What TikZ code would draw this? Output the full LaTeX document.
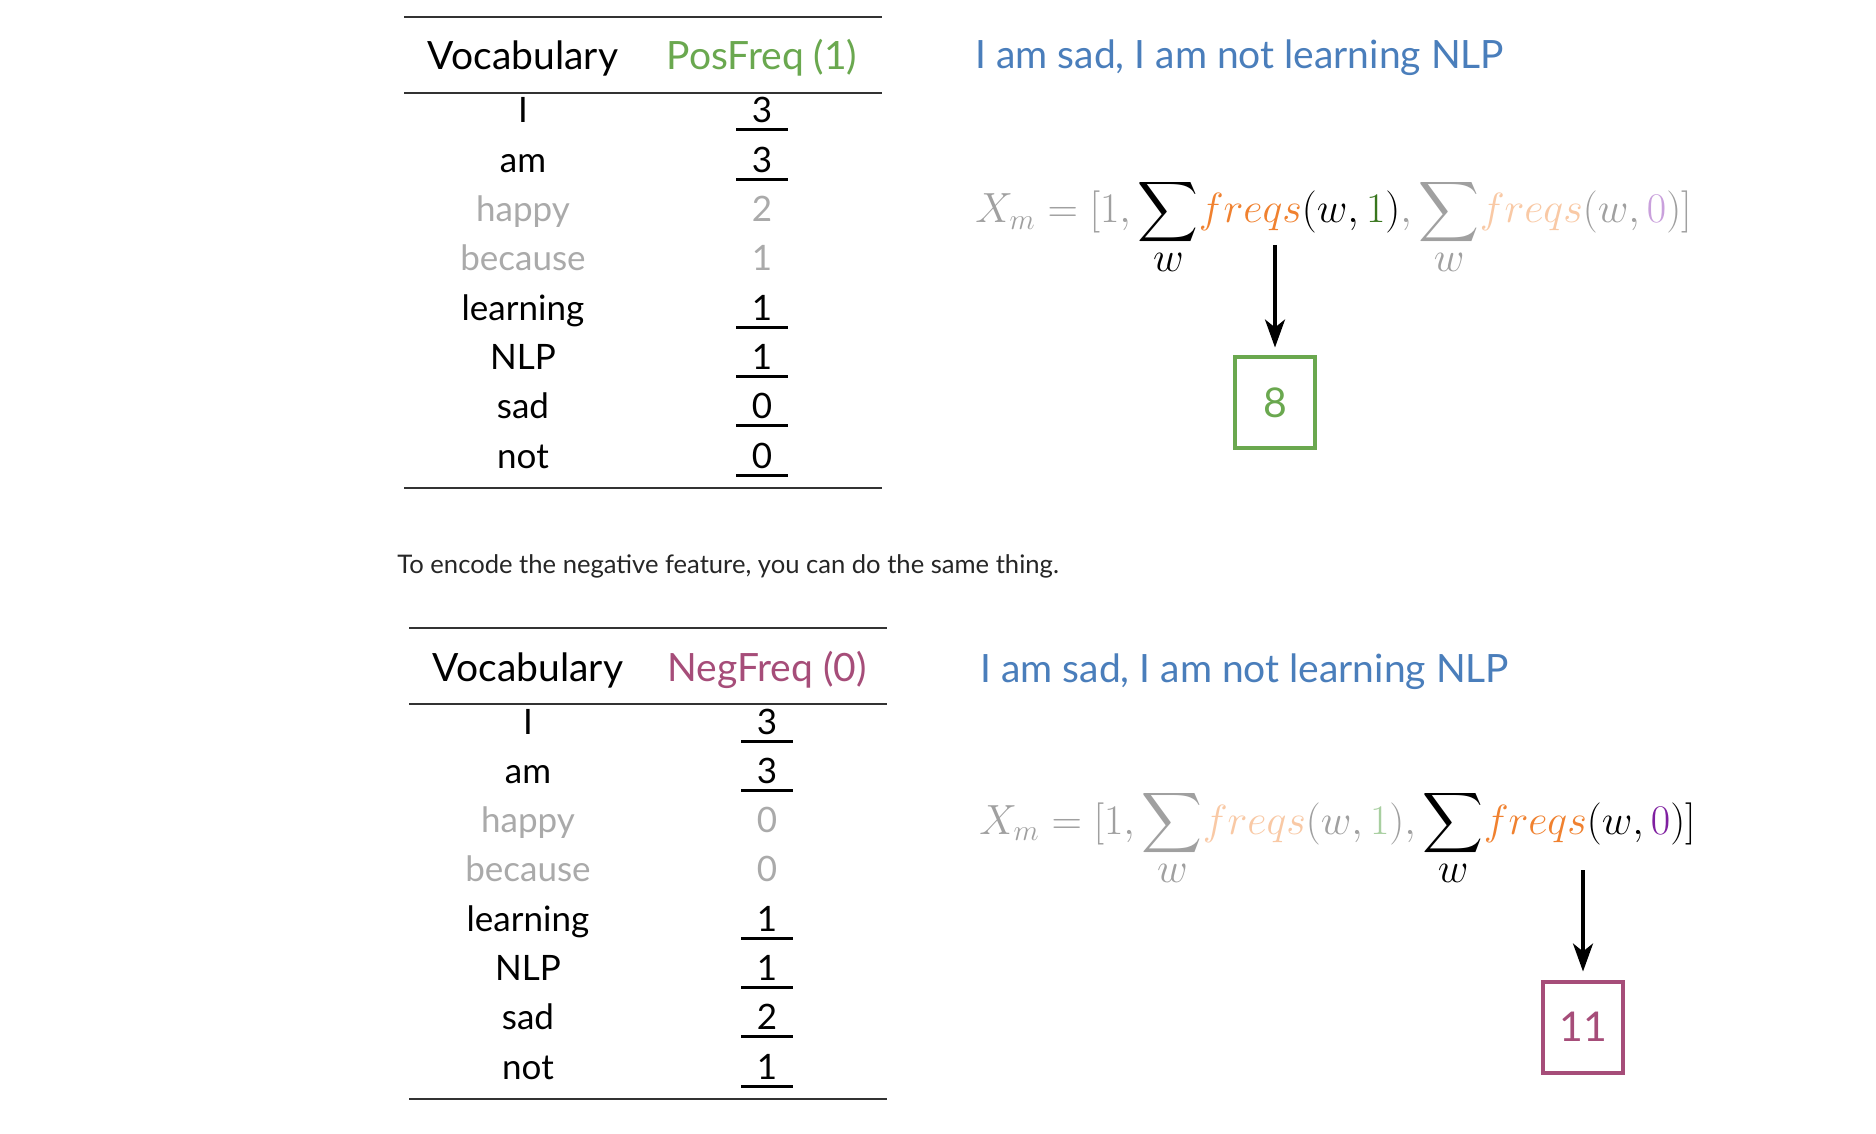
\documentclass[tikz,border=0pt]{standalone}
\usepackage{amsmath}
\usepackage{fontspec}
\setmainfont{Lato}
\usetikzlibrary{arrows.meta}
\definecolor{posgreen}{HTML}{6AA84F}
\definecolor{negpurple}{HTML}{A64D79}
\definecolor{sentblue}{HTML}{4A7EBB}
\definecolor{txtgray}{HTML}{AAAAAA}
\definecolor{mgray}{HTML}{A0A0A0}
\definecolor{forange}{HTML}{F0812F}
\definecolor{lorange}{HTML}{F9C9A5}
\definecolor{dgreen}{HTML}{38761D}
\definecolor{lgreen}{HTML}{A8CFA0}
\definecolor{dpurple}{HTML}{7F1FA0}
\definecolor{lpurple}{HTML}{C9A0DC}
\newcommand{\bigsumw}{\sum_{\textstyle w}\!}
\begin{document}
\begin{tikzpicture}[x=0.5pt,y=-0.5pt,
  hdr/.style={anchor=base, inner sep=0, font=\fontsize{19.5}{23}\selectfont},
  cell/.style={anchor=base, inner sep=0, font=\fontsize{17.5}{21}\selectfont},
  tabrule/.style={line width=1pt, draw=black!80},
  uline/.style={line width=1.5pt},
  sent/.style={anchor=base west, inner sep=0, font=\fontsize{19.5}{23}\selectfont, text=sentblue},
  eqn/.style={anchor=base west, inner sep=0, font=\fontsize{20.74}{25}\selectfont},
  resbox/.style={draw, line width=2pt, minimum width=40pt, minimum height=45.5pt, inner sep=0, font=\fontsize{20.5}{24}\selectfont},
  conn/.style={line width=1.8pt, shorten >=4pt, -{Stealth[length=14pt,width=10pt,inset=4pt]}}]
\useasboundingbox (0,0) rectangle (1876,1134);
\fill[white] (0,0) rectangle (1876,1134);

% ---------- top table ----------
\draw[tabrule] (404,17) -- (882,17);
\draw[tabrule] (404,93) -- (882,93);
\draw[tabrule] (404,488) -- (882,488);
\node[hdr] (th1) at (523,70) {Vocabulary};
\node[hdr, text=posgreen] (th2) at (762,70) {PosFreq (1)};
\foreach \w/\v/\c/\u [count=\i from 0] in {I/3/black/1, am/3/black/1, happy/2/txtgray/0, because/1/txtgray/0, learning/1/black/1, NLP/1/black/1, sad/0/black/1, not/0/black/1}{
  \node[cell, text=\c] (tw\i) at (523,{123+49.3*\i}) {\w};
  \node[cell, text=\c] (tv\i) at (762,{123+49.3*\i}) {\v};
  \ifnum\u=1 \draw[uline] (736,{130+49.3*\i}) -- (788,{130+49.3*\i}); \fi
}

% ---------- top right ----------
\node[sent] (s1) at (975,69) {I am sad, I am not learning NLP};
\node[eqn] (e1) at (975,223) {\scalebox{1.017}{$\displaystyle \color{mgray}X_m = [1, \color{black}\bigsumw \color{forange}freqs\color{black}(w, \color{dgreen}1\color{black})\color{mgray}, \bigsumw \color{lorange}freqs\color{mgray}(w, \color{lpurple}0\color{mgray})]$}};
\coordinate (a1) at (1275,245);
\node[resbox, draw=posgreen, text=posgreen] (r1) at (1275,403) {8};
\draw[conn] (a1) -- (r1.north);

% ---------- caption ----------
\node[anchor=base west, inner sep=0, font=\fontsize{12.8}{15}\selectfont, text=black!85] (cap) at (397,573) {To encode the negative feature, you can do the same thing.};

% ---------- bottom table ----------
\begin{scope}[shift={(5,611)}]
\draw[tabrule] (404,17) -- (882,17);
\draw[tabrule] (404,93) -- (882,93);
\draw[tabrule] (404,488) -- (882,488);
\node[hdr] (bh1) at (523,70) {Vocabulary};
\node[hdr, text=negpurple] (bh2) at (762,70) {NegFreq (0)};
\foreach \w/\v/\c/\u [count=\i from 0] in {I/3/black/1, am/3/black/1, happy/0/txtgray/0, because/0/txtgray/0, learning/1/black/1, NLP/1/black/1, sad/2/black/1, not/1/black/1}{
  \node[cell, text=\c] (bw\i) at (523,{123+49.3*\i}) {\w};
  \node[cell, text=\c] (bv\i) at (762,{123+49.3*\i}) {\v};
  \ifnum\u=1 \draw[uline] (736,{130+49.3*\i}) -- (788,{130+49.3*\i}); \fi
}
\end{scope}

% ---------- bottom right ----------
\node[sent] (s2) at (980,682) {I am sad, I am not learning NLP};
\node[eqn] (e2) at (979,834) {\scalebox{1.017}{$\displaystyle \color{mgray}X_m = [1, \bigsumw \color{lorange}freqs\color{mgray}(w, \color{lgreen}1\color{mgray}), \color{black}\bigsumw \color{forange}freqs\color{black}(w, \color{dpurple}0\color{black})]$}};
\coordinate (a2) at (1583,870);
\node[resbox, draw=negpurple, text=negpurple] (r2) at (1583,1027) {11};
\draw[conn] (a2) -- (r2.north);
\end{tikzpicture}
\end{document}
